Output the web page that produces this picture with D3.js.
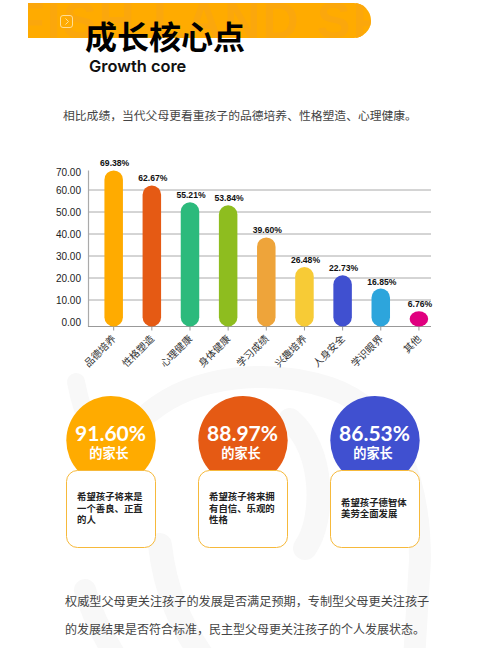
<!DOCTYPE html>
<html lang="zh">
<head>
<meta charset="utf-8">
<title>成长核心点</title>
<script src="https://cdn.jsdelivr.net/npm/d3@7"></script>
<style>
  html, body { margin: 0; padding: 0; background: #fff; }
  svg { display: block; }
  text { font-family: "Noto Sans CJK SC", sans-serif; }
  .num { font-family: "Liberation Sans", Arial, sans-serif; }
</style>
</head>
<body>
<script>
// chart data
var categories = ["品德培养", "性格塑造", "心理健康", "身体健康", "学习成绩", "兴趣培养", "人身安全", "学识眼界", "其他"];
var values = [69.38, 62.67, 55.21, 53.84, 39.60, 26.48, 22.73, 16.85, 6.76];
var barColors = ["#ffab00", "#e55a14", "#2cba7c", "#8ebd1f", "#eea43a", "#f7cb36", "#4050d0", "#2da5dc", "#e0007f"];
var yTicks = [0, 10, 20, 30, 40, 50, 60, 70];

// the three cards
var cardPercents = ["91.60%", "88.97%", "86.53%"];
var cardColors = ["#ffab00", "#e55a14", "#4050d0"];
var cardLines = [
  ["希望孩子将来是", "一个善良、正直", "的人"],
  ["希望孩子将来拥", "有自信、乐观的", "性格"],
  ["希望孩子德智体", "美劳全面发展"]
];

var w = 486, h = 648;
var svg = d3.select("body").append("svg").attr("width", w).attr("height", h);

// pale swirl behind everything
var swirl = svg.append("g").attr("fill", "none").attr("stroke", "#f8f8f8").attr("stroke-linecap", "round");
swirl.append("path").attr("stroke-width", 22)
  .attr("d", "M150,412 C195,375 270,368 330,388 C395,410 420,480 420,560 L414,660");
swirl.append("path").attr("stroke-width", 18)
  .attr("d", "M76,382 C84,425 100,450 125,470");
swirl.append("path").attr("stroke-width", 24)
  .attr("d", "M290,420 C325,450 325,520 305,548");
swirl.append("path").attr("stroke-width", 24)
  .attr("d", "M160,545 C165,590 180,625 205,660");
swirl.append("path").attr("stroke-width", 22)
  .attr("d", "M85,590 C92,615 105,640 118,660");

// header banner
var defs = svg.append("defs");
defs.append("clipPath").attr("id", "bannerClip").append("path")
  .attr("d", "M28,3 H353.5 A17.5,17.5 0 0 1 353.5,38 H28 Z");
var banner = svg.append("g").attr("clip-path", "url(#bannerClip)");
banner.append("rect").attr("x", 28).attr("y", 3).attr("width", 343).attr("height", 35).attr("fill", "#ffab00");
banner.append("text")
  .attr("class", "num")
  .attr("x", 14).attr("y", 38)
  .attr("font-size", 50).attr("font-weight", 700)
  .attr("fill", "#fba70c")
  .attr("textLength", 372)
  .text("FISH LAND SP");
svg.append("rect").attr("x", 60.5).attr("y", 15.5).attr("width", 12).attr("height", 12).attr("rx", 2.5)
  .attr("fill", "none").attr("stroke", "#ffe3a6").attr("stroke-width", 0.9);
svg.append("path").attr("d", "M65.5,18.5 L68.5,21.5 L65.5,24.5")
  .attr("fill", "none").attr("stroke", "#ffe3a6").attr("stroke-width", 0.9);

svg.append("text").attr("x", 85).attr("y", 49)
  .attr("font-size", 32).attr("font-weight", 700).attr("fill", "#000")
  .text("成长核心点");
svg.append("text").attr("x", 89).attr("y", 72)
  .style("font-family", "Inter, sans-serif")
  .attr("font-size", 16.4).attr("font-weight", 600).attr("fill", "#111")
  .text("Growth core");
svg.append("text").attr("x", 63).attr("y", 120)
  .attr("font-size", 11.8).attr("fill", "#444")
  .text("相比成绩，当代父母更看重孩子的品德培养、性格塑造、心理健康。");

// bar chart scales
var left = 88, right = 431, base = 326.5;
// bars sit a little right of the axis span in the picture
var x = d3.scaleBand().domain(categories).range([94.6, 438]).paddingInner(0.515).paddingOuter(0.2575);
var yBar = d3.scaleLinear().domain([0, 70]).range([base, 169]);
// the picture's axis is not even: gridlines and their labels sit apart from the bars
var yGrid = d3.scaleLinear().domain([0, 10, 60, 70]).range([base, 300, 190, 170]);
var yLabel = d3.scaleLinear().domain([0, 10, 60, 70]).range([322.5, 300.5, 190.5, 172.5]);

var yAxis = d3.axisLeft(yGrid).tickValues(yTicks).tickFormat(d3.format(".2f")).tickSize(0).tickPadding(7);
var yG = svg.append("g").attr("transform", "translate(" + left + ",0)").call(yAxis);
yG.select(".domain").attr("stroke", "#aaa").attr("stroke-width", 1.2);
yG.selectAll("text")
  .attr("class", "num")
  .attr("font-size", 10).attr("fill", "#222")
  .attr("y", function (d) { return yLabel(d) - yGrid(d); });

svg.append("g").selectAll("line")
  .data(yTicks.filter(function (d) { return d > 0 && d < 70; }))
  .join("line")
  .attr("x1", left).attr("x2", right)
  .attr("y1", function (d) { return yGrid(d); })
  .attr("y2", function (d) { return yGrid(d); })
  .attr("stroke", "#aaa").attr("stroke-width", 1);

var xAxis = d3.axisBottom(x).tickSize(4).tickSizeOuter(0);
var xG = svg.append("g").attr("transform", "translate(0," + base + ")").call(xAxis);
xG.select(".domain").attr("d", "M" + left + ",0H" + right).attr("stroke", "#999").attr("stroke-width", 1.2);
xG.selectAll("line").attr("stroke", "#999");
xG.selectAll("text")
  .attr("font-size", 10).attr("fill", "#333")
  .attr("text-anchor", "end")
  .attr("x", 0).attr("y", 0).attr("dy", 0)
  .attr("transform", "translate(3,13) rotate(-45)");

// bars
var bars = categories.map(function (c, i) {
  return { name: c, value: values[i], color: barColors[i] };
});
svg.append("g").selectAll("rect")
  .data(bars)
  .join("rect")
  .attr("x", function (d) { return x(d.name); })
  .attr("y", function (d) { return yBar(d.value); })
  .attr("width", x.bandwidth())
  .attr("height", function (d) { return base - yBar(d.value); })
  .attr("rx", x.bandwidth() / 2)
  .attr("ry", function (d) { return Math.min(x.bandwidth() / 2, (base - yBar(d.value)) / 2); })
  .attr("fill", function (d) { return d.color; });

svg.append("g").selectAll("text")
  .data(bars)
  .join("text")
  .attr("class", "num")
  .attr("x", function (d) { return x(d.name) + x.bandwidth() / 2 + 1; })
  .attr("y", function (d) { return yBar(d.value) - 4; })
  .attr("text-anchor", "middle")
  .attr("font-size", 8.6).attr("font-weight", 700).attr("fill", "#111")
  .text(function (d) { return d.value.toFixed(2) + "%"; });

// cards
var cardX = d3.scalePoint().domain(d3.range(cardPercents.length)).range([111, 375]);
var cards = svg.append("g").selectAll("g")
  .data(cardPercents)
  .join("g")
  .attr("transform", function (d, i) { return "translate(" + cardX(i) + ",0)"; });

cards.append("circle").attr("cy", 440.6).attr("r", 44.7)
  .attr("fill", function (d, i) { return cardColors[i]; });
cards.append("text").attr("y", 441).attr("x", -0.5).attr("text-anchor", "middle")
  .style("font-family", "Lato, sans-serif")
  .attr("font-size", 21).attr("font-weight", 700).attr("fill", "#fff")
  .text(function (d) { return d; });
cards.append("text").attr("y", 457.5).attr("x", -2).attr("text-anchor", "middle")
  .attr("font-size", 13.2).attr("font-weight", 700).attr("fill", "#fff")
  .text("的家长");
cards.append("rect").attr("x", -44.5).attr("y", 470.5).attr("width", 89).attr("height", 77).attr("rx", 11)
  .attr("fill", "#fff").attr("stroke", "#f6b93b").attr("stroke-width", 1);
cards.each(function (d, i) {
  var lines = cardLines[i];
  var top = lines.length === 3 ? 500 : 505.5;
  var step = lines.length === 3 ? 11.5 : 11.8;
  d3.select(this).selectAll("text.line")
    .data(lines)
    .join("text")
    .attr("class", "line")
    .attr("x", -34)
    .attr("y", function (t, j) { return top + j * step; })
    .attr("font-size", 9.4).attr("font-weight", 700).attr("fill", "#222")
    .text(function (t) { return t; });
});

// closing paragraph
svg.append("text").attr("x", 65).attr("y", 605.5)
  .attr("font-size", 12.15).attr("fill", "#444")
  .text("权威型父母更关注孩子的发展是否满足预期，专制型父母更关注孩子");
svg.append("text").attr("x", 65).attr("y", 633.5)
  .attr("font-size", 12).attr("fill", "#444")
  .text("的发展结果是否符合标准，民主型父母更关注孩子的个人发展状态。");
</script>
</body>
</html>
